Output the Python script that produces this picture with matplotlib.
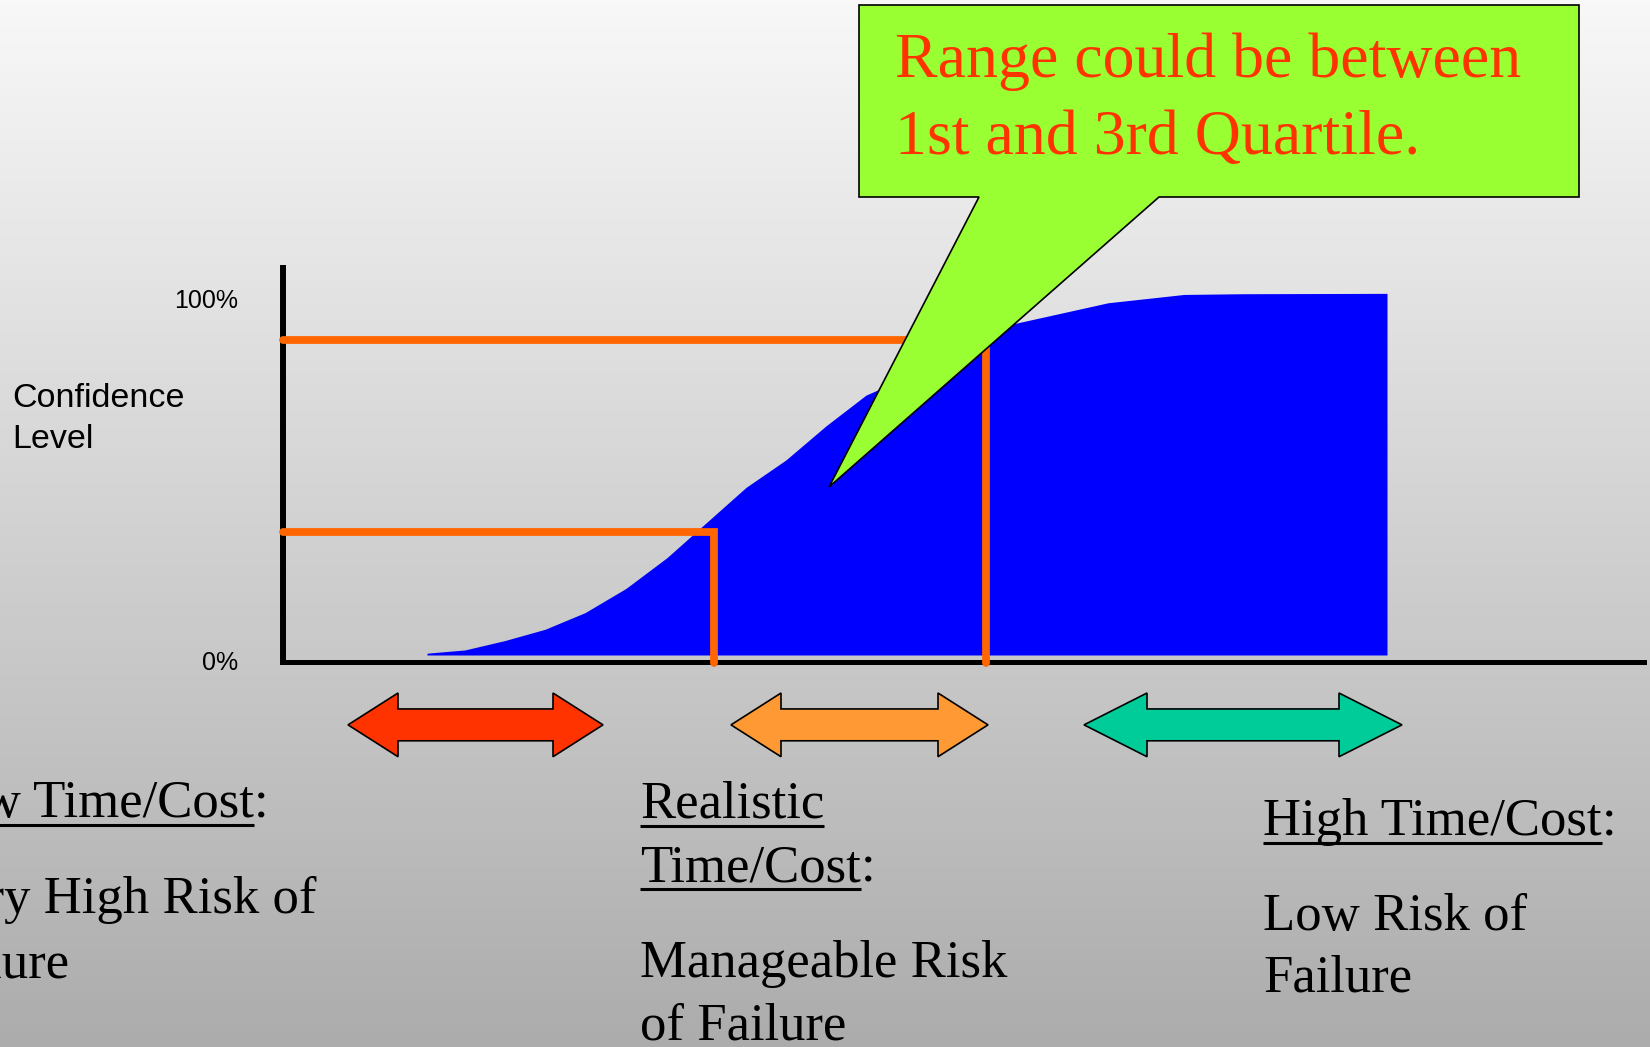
import numpy as np
import matplotlib
matplotlib.use("Agg")
import matplotlib.pyplot as plt
from matplotlib.patches import Polygon
from matplotlib.transforms import ScaledTranslation

# cumulative confidence curve (cost units along x, % confidence on y)
cost = [14.4, 18.2, 22.2, 26.2, 30.2, 34.3, 38.4, 46.3, 50.3, 54.3, 58.3, 60.2,
        64.0, 67.5, 70.3, 73.2, 82.5, 90.1, 96.0, 110.4]
conf = [0.5, 1.4, 4.0, 7.1, 11.7, 18.4, 26.9, 46.3, 53.9, 63.3, 71.8, 74.1,
        80.0, 84.5, 87.8, 91.6, 97.3, 99.6, 99.8, 99.9]

# quartile markers: (cost, confidence)
q_low = (43.1, 34)
q_high = (70.3, 87)

ytick_vals = [0, 100]
ytick_labels = ["0%", "100%"]

# arrow ranges along the cost axis
arrow_ranges = [(6.5, 32.0), (44.8, 70.5), (80.1, 111.9)]
arrow_colors = ["#ff3300", "#ff9933", "#00cc99"]

callout_lines = ["Range could be between", "1st and 3rd Quartile."]

serif = ["Liberation Serif", "DejaVu Serif"]
sans = ["Liberation Sans", "DejaVu Sans"]

W, H = 1650, 1047
fig = plt.figure(figsize=(W / 100, H / 100), dpi=100)

# background gradient
bg = fig.add_axes([0, 0, 1, 1], zorder=0)
grad = np.linspace(248, 172, 256)[:, None] / 255.0
bg.imshow(np.dstack([grad, grad, grad]), extent=[0, W, H, 0], aspect="auto")
bg.set_xlim(0, W)
bg.set_ylim(H, 0)
bg.axis("off")

# main chart axes: x px = 283 + 10*cost, y px = 655 - 3.62*conf
x0, x1 = 283, 1644
ytop, ybot = 268, 662
ax = fig.add_axes([x0 / W, (H - ybot) / H, (x1 - x0) / W, (ybot - ytop) / H], zorder=1)
ax.patch.set_alpha(0)
ax.set_xlim(0, (x1 - x0) / 10)
ax.set_ylim((655 - ybot) / 3.62, (655 - ytop) / 3.62)
for s in ["top", "right"]:
    ax.spines[s].set_visible(False)
ax.spines["left"].set_linewidth(4.3)
ax.spines["bottom"].set_linewidth(3.6)
ax.set_xticks([])
ax.set_yticks(ytick_vals)
ax.set_yticklabels(ytick_labels, fontsize=18, family=sans)
ax.tick_params(axis="y", length=0, pad=32)
# labels sit a little below their tick values in the original
shift = ScaledTranslation(0, -6 / 100, fig.dpi_scale_trans)
for lab in ax.get_yticklabels():
    lab.set_transform(lab.get_transform() + shift)

ax.fill_between(cost, 0, conf, color="#0000ff", lw=0, zorder=2)

ymin = ax.get_ylim()[0] - 0.2
orange = "#ff6600"
for qx, qy in [q_low, q_high]:
    ax.plot([0, qx, qx], [qy, qy, ymin], color=orange, lw=5.6,
            solid_capstyle="round", solid_joinstyle="miter", clip_on=False, zorder=3)

# double arrows under the axis
yc, head_h, shaft_h = -19.3, 8.8, 4.4
for (a, b), c in zip(arrow_ranges, arrow_colors):
    hl = 5.0 if (b - a) < 30 else 6.3
    pts = [(a, yc), (a + hl, yc + head_h), (a + hl, yc + shaft_h), (b - hl, yc + shaft_h),
           (b - hl, yc + head_h), (b, yc), (b - hl, yc - head_h), (b - hl, yc - shaft_h),
           (a + hl, yc - shaft_h), (a + hl, yc - head_h)]
    ax.add_patch(Polygon(pts, closed=True, facecolor=c, edgecolor="black", lw=1.2,
                         clip_on=False, zorder=2))

# overlay in pixel coordinates for callout and text
ov = fig.add_axes([0, 0, 1, 1], zorder=2)
ov.patch.set_alpha(0)
ov.set_xlim(0, W)
ov.set_ylim(H, 0)
ov.axis("off")

callout = [(859, 5), (1579, 5), (1579, 197), (1159, 197), (829, 487), (979, 197), (859, 197)]
ov.add_patch(Polygon(callout, closed=True, facecolor="#99ff33", edgecolor="black", lw=1.2))
ov.text(895, 77, callout_lines[0], fontsize=46, family=serif, color="#ff3300", va="baseline")
ov.text(895, 154, callout_lines[1], fontsize=46, family=serif, color="#ff3300", va="baseline")

ov.text(12, 407, "Confidence", fontsize=24.5, family=sans, va="baseline")
ov.text(12, 448, "Level", fontsize=24.5, family=sans, va="baseline")

renderer = fig.canvas.get_renderer()


def underlined(x, y, txt, suffix=""):
    t = ov.text(x, y, txt, fontsize=38, family=serif, va="baseline")
    bb = t.get_window_extent(renderer)
    xe = ov.transData.inverted().transform((bb.x1, 0))[0]
    ov.plot([x, xe], [y + 8, y + 8], color="black", lw=2.2, solid_capstyle="butt")
    if suffix:
        ov.text(xe, y, suffix, fontsize=38, family=serif, va="baseline")


def plain(x, y, txt):
    ov.text(x, y, txt, fontsize=38, family=serif, va="baseline")


# the left block runs off the slide edge, as in the original
underlined(-76, 817, "Low Time/Cost", ":")
plain(-69, 913, "Very High Risk of")
plain(-80, 977, "Failure")

underlined(640, 818, "Realistic")
underlined(640, 881, "Time/Cost", ":")
plain(640, 977, "Manageable Risk")
plain(640, 1040, "of Failure")

underlined(1263, 835, "High Time/Cost", ":")
plain(1263, 930, "Low Risk of")
plain(1263, 992, "Failure")

fig.savefig("out.png", dpi=100)
